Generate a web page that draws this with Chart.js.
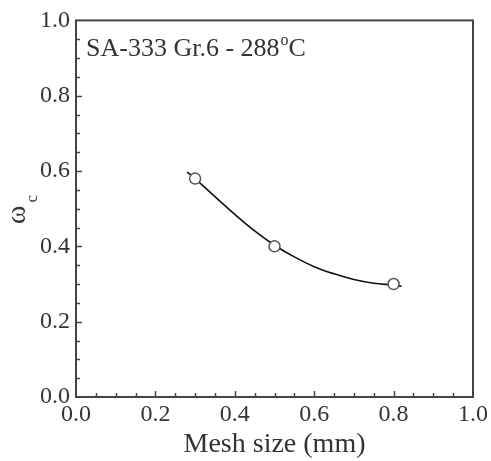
<!DOCTYPE html>
<html>
<head>
<meta charset="utf-8">
<script src="https://cdn.jsdelivr.net/npm/chart.js@4"></script>
<style>
    html, body { margin: 0; padding: 0; background: #fff; }
    #wrap { width: 491px; height: 461px; }
</style>
</head>
<body>
<div id="wrap"><canvas id="omegaChart" width="491" height="461"></canvas></div>
<script>
// measured points
let meshSize = [0.3, 0.5, 0.8];
let omegaC = [0.58, 0.40, 0.30];

// fitted curve
let fitX = [0.28, 0.30, 0.35, 0.40, 0.45, 0.50, 0.55, 0.60, 0.65, 0.70, 0.75, 0.80, 0.82];
let fitY = [0.597, 0.580, 0.532, 0.485, 0.441, 0.403, 0.372, 0.346, 0.327, 0.312, 0.302, 0.297, 0.294];

let tickValues = [0, 0.2, 0.4, 0.6, 0.8, 1.0];
let minorStep = 0.05;

const serif = "'Liberation Serif', 'DejaVu Serif', serif";
const ink = "#333";

// inward ticks, frame, label text and y title
const decorPlugin = {
    id: 'decor',
    afterDraw: function(chart) {
        let ctx = chart.ctx;
        let a = chart.chartArea;
        let xs = chart.scales.x;
        let ys = chart.scales.y;
        ctx.save();

        ctx.strokeStyle = "#444";
        ctx.lineWidth = 2;
        ctx.strokeRect(a.left, a.top, a.right - a.left, a.bottom - a.top);

        ctx.lineWidth = 1.5;
        for (let i = 1; i < 20; i++) {
            let v = i * minorStep;
            let major = (i % 4 == 0);
            let len = major ? 6 : 4;
            let px = Math.round(xs.getPixelForValue(v)) + 0.5;
            ctx.beginPath();
            ctx.moveTo(px, a.bottom);
            ctx.lineTo(px, a.bottom - len);
            ctx.stroke();
            let py = Math.round(ys.getPixelForValue(v)) + 0.5;
            ctx.beginPath();
            ctx.moveTo(a.left, py);
            ctx.lineTo(a.left + len, py);
            ctx.stroke();
        }

        // label in the corner
        ctx.fillStyle = ink;
        ctx.textBaseline = 'alphabetic';
        ctx.textAlign = 'left';
        ctx.font = "26px " + serif;
        let txt = "SA-333 Gr.6 - 288";
        let tx = a.left + 10;
        let ty = a.top + 36;
        ctx.fillText(txt, tx, ty);
        tx += ctx.measureText(txt).width;
        ctx.font = "16px " + serif;
        ctx.fillText("o", tx + 1, ty - 11);
        tx += ctx.measureText("o").width + 1;
        ctx.font = "26px " + serif;
        ctx.fillText("C", tx, ty);

        // y title: omega with subscript c
        ctx.translate(25, (a.top + a.bottom) / 2 + 6);
        ctx.rotate(-Math.PI / 2);
        ctx.font = "28px " + serif;
        let w = ctx.measureText("ω").width;
        ctx.fillText("ω", -w / 2, 0);
        ctx.font = "17px " + serif;
        ctx.fillText("c", w / 2 + 3, 12);

        ctx.restore();
    }
};

let ctx = document.getElementById("omegaChart").getContext('2d');

new Chart(ctx, {
    type: 'scatter',
    data: {
        datasets: [{
            type: 'line',
            label: 'fit',
            data: fitX.map((x, i) => ({ x: x, y: fitY[i] })),
            borderColor: '#111',
            borderWidth: 1.6,
            pointRadius: 0,
            fill: false,
            tension: 0.4,
            order: 2
        }, {
            label: 'omega_c',
            data: meshSize.map((x, i) => ({ x: x, y: omegaC[i] })),
            pointRadius: 5.5,
            pointBorderWidth: 1.5,
            pointBorderColor: '#555',
            pointBackgroundColor: '#fff',
            showLine: false,
            order: 1
        }]
    },
    options: {
        responsive: false,
        animation: false,
        events: [],
        layout: {
            padding: { left: 0, top: 16, right: 17, bottom: 0 }
        },
        plugins: {
            legend: { display: false },
            tooltip: { enabled: false }
        },
        scales: {
            x: {
                type: 'linear',
                min: 0,
                max: 1,
                afterFit: function(scale) { scale.height = 64; },
                afterBuildTicks: function(scale) {
                    scale.ticks = tickValues.map(v => ({ value: v }));
                },
                grid: { display: false, drawTicks: false },
                border: { display: false },
                ticks: {
                    padding: 3,
                    color: ink,
                    font: { family: serif, size: 24 },
                    callback: v => v.toFixed(1)
                },
                title: {
                    display: true,
                    text: 'Mesh size (mm)',
                    color: ink,
                    font: { family: serif, size: 28 },
                    padding: { top: 0, bottom: 0 }
                }
            },
            y: {
                type: 'linear',
                min: 0,
                max: 1,
                afterFit: function(scale) { scale.width = 76; },
                afterBuildTicks: function(scale) {
                    scale.ticks = tickValues.map(v => ({ value: v }));
                },
                grid: { display: false, drawTicks: false },
                border: { display: false },
                ticks: {
                    padding: 6,
                    color: ink,
                    font: { family: serif, size: 24 },
                    callback: v => v.toFixed(1)
                }
            }
        }
    },
    plugins: [decorPlugin]
});
</script>
</body>
</html>
